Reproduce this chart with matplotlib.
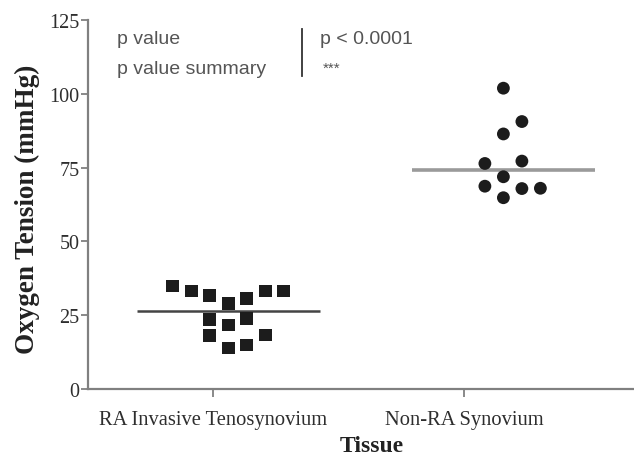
import numpy as np
import matplotlib
matplotlib.use("Agg")
import matplotlib.pyplot as plt

# values (mmHg)
tissues = ["RA Invasive Tenosynovium", "Non-RA Synovium"]
ra_tension = [34.9, 33.2, 31.7, 28.9, 30.6, 33.2, 33.2,
              23.5, 21.7, 24.0, 18.1, 13.9, 14.9, 18.3]
non_ra_tension = [101.9, 90.6, 86.4, 76.4, 77.2, 71.9,
                  68.7, 67.9, 68.0, 64.8]
yticks = [0, 25, 50, 75, 100, 125]

# scatter column of each point (GraphPad style spreading)
ra_cols = [-3, -2, -1, 0, 1, 2, 3, -1, 0, 1, -1, 0, 1, 2]
non_ra_cols = [0, 1, 0, -1, 1, 0, -1, 1, 2, 0]

AXIS_GREY = "#808080"
TEXT_GREY = "#2e2e2e"
SERIF = ["Liberation Serif", "DejaVu Serif"]
SANS = ["Liberation Sans", "DejaVu Sans"]

fig = plt.figure(figsize=(6.34, 4.6), dpi=100)
ax = fig.add_axes([88 / 634, 70 / 460, 546 / 634, 369 / 460])

step = 0.0738
half = 0.366
groups = [
    (ra_tension, ra_cols, 0.06, "s", "#444444", 1.8),
    (non_ra_tension, non_ra_cols, 1.157, "o", "#9a9a9a", 2.6),
]
for vals, cols, centre, marker, line_col, lw in groups:
    xs = centre + np.array(cols) * step
    ax.scatter(xs, vals, marker=marker, s=85, color="#1c1c1c",
               edgecolors="none", zorder=3)
    med = np.median(vals)
    ax.plot([centre - half, centre + half], [med, med], color=line_col,
            lw=lw, solid_capstyle="butt", zorder=2)

ax.set_xlim(-0.5, 1.678)
ax.set_ylim(0, 125)
ax.set_yticks(yticks)
ax.set_xticks([0, 1])
ax.set_xticklabels(tissues)

for side in ["top", "right"]:
    ax.spines[side].set_visible(False)
for side in ["left", "bottom"]:
    ax.spines[side].set_color(AXIS_GREY)
    ax.spines[side].set_linewidth(1.6)

ax.tick_params(axis="y", direction="out", length=5, width=1.3,
               color=AXIS_GREY, pad=1, labelsize=14.5, labelcolor=TEXT_GREY)
ax.tick_params(axis="x", direction="out", length=6, width=1.3,
               color=AXIS_GREY, pad=9, labelsize=14.8, labelcolor=TEXT_GREY)
for lab in ax.get_xticklabels() + ax.get_yticklabels():
    lab.set_family(SERIF)

ax.set_ylabel("Oxygen Tension (mmHg)", family=SERIF, fontsize=19.5,
              weight="bold", color="#222222")
ax.yaxis.set_label_coords(-0.088, 0.49)
ax.set_xlabel("Tissue", family=SERIF, fontsize=17, weight="bold",
              color="#222222")
ax.xaxis.set_label_coords(0.52, -0.125)

# statistics box text
ax.text(-0.385, 118.9, "p value", family=SANS, fontsize=14, color="#555555",
        va="center", ha="left")
ax.text(-0.385, 108.7, "p value summary", family=SANS, fontsize=14,
        color="#555555", va="center", ha="left")
ax.plot([0.3526, 0.3526], [106.0, 121.8], color="#333333", lw=1.3)
ax.text(0.4256, 118.9, "p < 0.0001", family=SANS, fontsize=14,
        color="#555555", va="center", ha="left")
ax.text(0.436, 108.7, "***", family=SANS, fontsize=11, color="#555555",
        va="center", ha="left")

fig.savefig("out.png", dpi=100)
